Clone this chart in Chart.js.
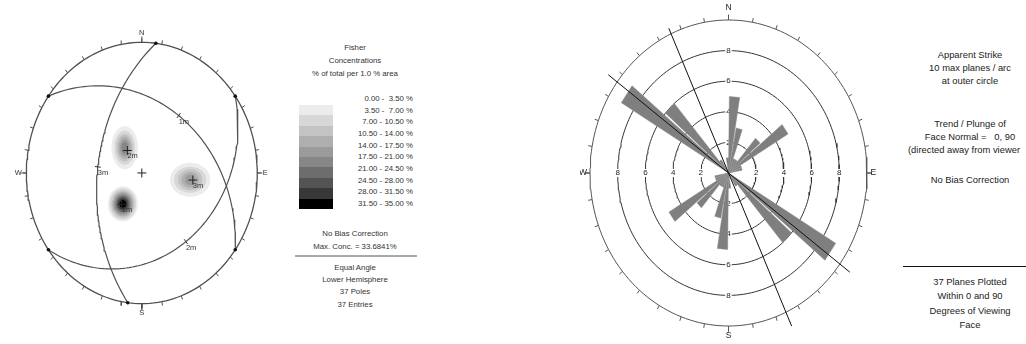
<!DOCTYPE html>
<html lang="en">
<head>
<meta charset="UTF-8">
<title>Fisher concentrations and rose diagram</title>
<script src="https://cdn.jsdelivr.net/npm/chart.js"></script>
<style>
    body {
        margin: 0;
        width: 1026px;
        height: 344px;
        position: relative;
        overflow: hidden;
        background: #fff;
        font-family: "Liberation Sans", Arial, sans-serif;
        color: #333;
    }
    .box { position: absolute; top: 0; height: 344px; }
    #stereoBox { left: 0; width: 290px; }
    #roseBox { left: 580px; width: 300px; }
    .t {
        position: absolute;
        white-space: pre;
        line-height: 10px;
        font-size: 7.8px;
    }
    .left { left: 295px; width: 120px; text-align: center; }
    .right { left: 900px; width: 140px; text-align: center; font-size: 9.4px; line-height: 12px; color: #222; }
    .swatch { position: absolute; left: 299px; width: 34px; }
    .lvl { left: 330px; width: 83px; text-align: right; }
</style>
</head>
<body>
    <div id="stereoBox" class="box"><canvas id="stereo"></canvas></div>
    <div id="roseBox" class="box"><canvas id="rose"></canvas></div>

    <!-- stereonet legend -->
    <div class="t left" style="top:43px">Fisher</div>
    <div class="t left" style="top:56px">Concentrations</div>
    <div class="t left" style="top:69px">% of total per 1.0 % area</div>
    <div id="legend"></div>
    <div class="t left" style="top:229px">No Bias Correction</div>
    <div class="t left" style="top:242px">Max. Conc. = 33.6841%</div>
    <div style="position:absolute;left:295px;top:255px;width:122px;height:2px;background:#aaa"></div>
    <div class="t left" style="top:263px">Equal Angle</div>
    <div class="t left" style="top:275px">Lower Hemisphere</div>
    <div class="t left" style="top:287px">37 Poles</div>
    <div class="t left" style="top:300px">37 Entries</div>

    <!-- rose notes -->
    <div class="t right" style="top:49px">Apparent Strike</div>
    <div class="t right" style="top:62px">10 max planes / arc</div>
    <div class="t right" style="top:75px">at outer circle</div>
    <div class="t right" style="top:118px">Trend / Plunge of</div>
    <div class="t right" style="top:131px">Face Normal =   0, 90</div>
    <div class="t right" style="top:144px;left:894px">(directed away from viewer</div>
    <div class="t right" style="top:174px">No Bias Correction</div>
    <div style="position:absolute;left:903px;top:266px;width:123px;height:1px;background:#111"></div>
    <div class="t right" style="top:276px">37 Planes Plotted</div>
    <div class="t right" style="top:290px">Within 0 and 90</div>
    <div class="t right" style="top:305px">Degrees of Viewing</div>
    <div class="t right" style="top:319px">Face</div>

<script>
    // ---------- stereonet data ----------
    const planeNames = ['1m', '2m', '3m'];
    const planeDipDir = [36, 144, 277];
    const planeDip = [33, 24, 48];

    // concentration blobs (unit-circle coords), one radius per contour level
    const clusterX = [-0.164, -0.148, 0.419];
    const clusterY = [-0.237, 0.193, -0.052];
    const clusterRx = [
        [0.13, 0.115, 0.1, 0.09, 0.08, 0.07, 0.06, 0.05, 0.04, 0.028],
        [0.115, 0.09, 0.072, 0.057, 0.042, 0.028],
        [0.175, 0.14, 0.105, 0.075, 0.045]
    ];
    const clusterRy = [
        [0.135, 0.12, 0.105, 0.094, 0.083, 0.072, 0.062, 0.052, 0.042, 0.03],
        [0.165, 0.13, 0.105, 0.085, 0.065, 0.045],
        [0.13, 0.1, 0.08, 0.06, 0.04]
    ];
    const levelBounds = [0, 3.5, 7, 10.5, 14, 17.5, 21, 24.5, 28, 31.5, 35];
    const levelColors = ['#ececec', '#d7d7d7', '#c3c3c3', '#afafaf', '#9b9b9b',
                         '#868686', '#6d6d6d', '#545454', '#383838', '#000000'];
    const cardinals = ['N', 'E', 'S', 'W'];

    // ---------- rose data ----------
    // planes per 10 degree strike bin, 0-10 ... 170-180 (drawn both ways)
    const strikeCounts = [5, 3, 1, 1, 3, 5, 1, 1, 0, 0, 0, 0, 9, 6, 1, 0, 0, 1];
    const ringValues = [2, 4, 6, 8, 10];
    const ringLabels = [2, 4, 6, 8];
    const lineAzimuths = [306.5, 335.5];
    const lineReachOut = [10.8, 10.4];
    const lineReachBack = [10.9, 11.0];

    const D2R = Math.PI / 180;
    const FONT = '"Liberation Sans", Arial, sans-serif';

    // legend swatches + labels
    const legend = document.getElementById('legend');
    const pad = v => (v < 10 ? ' ' : '') + v.toFixed(2);
    levelColors.forEach((c, i) => {
        const sw = document.createElement('div');
        sw.className = 'swatch';
        sw.style.top = Math.round(105 + i * 10.4) + 'px';
        sw.style.height = (Math.round(105 + (i + 1) * 10.4) - Math.round(105 + i * 10.4)) + 'px';
        sw.style.background = c;
        legend.appendChild(sw);
        const lb = document.createElement('div');
        lb.className = 't lvl';
        lb.style.top = Math.round(94 + i * 11.67) + 'px';
        lb.textContent = levelBounds[i].toFixed(2) + ' - ' + pad(levelBounds[i + 1]) + ' %';
        legend.appendChild(lb);
    });

    function project(trend, plunge) {
        const r = Math.tan((90 - plunge) / 2 * D2R);
        return {x: r * Math.sin(trend * D2R), y: r * Math.cos(trend * D2R)};
    }
    function polar(az, r) {
        return {x: r * Math.sin(az * D2R), y: r * Math.cos(az * D2R)};
    }
    function ellipse(cx, cy, rx, ry, step) {
        const pts = [];
        for (let a = 0; a <= 360; a += step) {
            pts.push({x: cx + rx * Math.sin(a * D2R), y: cy + ry * Math.cos(a * D2R)});
        }
        return pts;
    }
    function greatCircle(dipDir, dip) {
        const pts = [];
        const sd = (dipDir - 90) * D2R, dd = dipDir * D2R, dp = dip * D2R;
        for (let t = 0; t <= 180; t += 2) {
            const c = Math.cos(t * D2R), s = Math.sin(t * D2R);
            const e = c * Math.sin(sd) + s * Math.cos(dp) * Math.sin(dd);
            const n = c * Math.cos(sd) + s * Math.cos(dp) * Math.cos(dd);
            const d = s * Math.sin(dp);
            pts.push(project(Math.atan2(e, n) / D2R, Math.asin(Math.min(1, d)) / D2R));
        }
        return pts;
    }
    function tickSegments(r0, r1, step) {
        const pts = [];
        for (let a = 0; a < 360; a += step) {
            pts.push(polar(a, r0), polar(a, r1), {x: null, y: null});
        }
        return pts;
    }
    function lineDs(data, color, width, order, extra) {
        return Object.assign({data, showLine: true, borderColor: color, borderWidth: width,
            pointRadius: 0, fill: false, tension: 0, order}, extra || {});
    }

    // ---------- stereonet ----------
    const stereoSets = [];
    clusterX.forEach((cx, k) => {
        clusterRx[k].forEach((rx, i) => {
            // outer levels get a higher order so they are painted first
            stereoSets.push(lineDs(ellipse(cx, clusterY[k], rx, clusterRy[k][i], 10), 'rgba(0,0,0,0)', 0, 20 - i,
                {fill: 'shape', backgroundColor: levelColors[i], kind: 'contour'}));
        });
    });
    planeDipDir.forEach((dd, i) => {
        stereoSets.push(lineDs(greatCircle(dd, planeDip[i]), '#505050', 1.2, 3));
    });
    stereoSets.push(lineDs(ellipse(0, 0, 1, 1, 2), '#505050', 1.3, 2));
    stereoSets.push(lineDs(tickSegments(1, 1.03, 10), '#505050', 1, 2));
    stereoSets.push(lineDs(tickSegments(1, 1.045, 90), '#505050', 1, 2));
    // strike ends on the primitive
    stereoSets.push({data: planeDipDir.flatMap(dd => [polar(dd - 90, 1), polar(dd + 90, 1)]),
        pointRadius: 1.8, backgroundColor: '#111', borderWidth: 0, order: 1});
    // small ticks at the middle of each great circle
    planeDipDir.forEach((dd, i) => {
        const p = polar(dd, Math.tan((90 - planeDip[i]) / 2 * D2R));
        stereoSets.push({data: [p], pointStyle: 'line', rotation: dd - 90, pointRadius: 3,
            borderColor: '#333', borderWidth: 1, order: 1});
    });
    // poles of the mean planes + centre
    stereoSets.push({data: planeDipDir.map((dd, i) => project(dd + 180, 90 - planeDip[i])).concat([{x: 0, y: 0}]),
        pointStyle: 'cross', pointRadius: 4.5, borderColor: '#222', borderWidth: 1, order: 0});

    const stereoText = {
        id: 'stereoText',
        beforeDatasetDraw(chart, args) {
            if (chart.data.datasets[args.index].kind === 'contour') {
                chart.ctx.save();
                chart.ctx.filter = 'blur(1.6px)';
            }
        },
        afterDatasetDraw(chart, args) {
            if (chart.data.datasets[args.index].kind === 'contour') chart.ctx.restore();
        },
        afterDatasetsDraw(chart) {
            const {ctx, scales: {x, y}} = chart;
            ctx.save();
            ctx.fillStyle = '#333';
            ctx.font = '7.5px ' + FONT;
            ctx.textAlign = 'center';
            ctx.textBaseline = 'middle';
            cardinals.forEach((c, i) => {
                const p = polar(i * 90, 1.07);
                ctx.fillText(c, x.getPixelForValue(p.x), y.getPixelForValue(p.y));
            });
            ctx.textAlign = 'left';
            planeDipDir.forEach((dd, i) => {
                const p = polar(dd, Math.tan((90 - planeDip[i]) / 2 * D2R));
                ctx.fillText(planeNames[i], x.getPixelForValue(p.x), y.getPixelForValue(p.y) + 6);
                const q = project(dd + 180, 90 - planeDip[i]);
                ctx.fillText(planeNames[i], x.getPixelForValue(q.x), y.getPixelForValue(q.y) + 5.5);
            });
            ctx.restore();
        }
    };

    new Chart(document.getElementById('stereo'), {
        type: 'scatter',
        data: {datasets: stereoSets},
        options: {
            responsive: true,
            maintainAspectRatio: false,
            animation: false,
            events: [],
            layout: {padding: 0},
            plugins: {legend: {display: false}, tooltip: {enabled: false}},
            scales: {
                x: {type: 'linear', display: false, min: -141.7 / 120, max: 148.3 / 120},
                y: {type: 'linear', display: false, min: -171 / 135, max: 173 / 135}
            }
        },
        plugins: [stereoText]
    });

    // ---------- rose diagram ----------
    const roseSets = [];
    ringValues.forEach(r => {
        roseSets.push(lineDs(ellipse(0, 0, r, r, 2), r === 10 ? '#555' : '#333', 1, 3));
    });
    roseSets.push(lineDs(tickSegments(10, 10.28, 10), '#555', 1, 3));
    roseSets.push(lineDs(tickSegments(10, 10.35, 90), '#444', 1, 3));
    strikeCounts.forEach((n, i) => {
        if (!n) return;
        [0, 180].forEach(off => {
            const a0 = i * 10 + off + 0.7, a1 = i * 10 + off + 9.3;
            roseSets.push(lineDs([{x: 0, y: 0}, polar(a0, n), polar(a1, n), {x: 0, y: 0}], '#8a8a8a', 0.5, 2,
                {fill: 'shape', backgroundColor: '#7f7f7f', kind: 'petal'}));
        });
    });
    lineAzimuths.forEach((az, i) => {
        roseSets.push(lineDs([polar(az, lineReachOut[i]), polar(az + 180, lineReachBack[i])], '#111', 1, 1));
    });

    const roseText = {
        id: 'roseText',
        beforeDatasetsDraw(chart) { chart.$ringsLabelled = false; },
        beforeDatasetDraw(chart, args) {
            if (chart.$ringsLabelled || chart.data.datasets[args.index].kind !== 'petal') return;
            chart.$ringsLabelled = true;
            const {ctx, scales: {x, y}} = chart;
            ctx.save();
            ctx.font = '8px ' + FONT;
            ctx.textAlign = 'center';
            ctx.textBaseline = 'middle';
            const put = (vx, vy, txt) => {
                const px = x.getPixelForValue(vx), py = y.getPixelForValue(vy);
                const w = ctx.measureText(txt).width;
                ctx.fillStyle = '#fff';
                ctx.fillRect(px - w / 2 - 1, py - 4, w + 2, 8);
                ctx.fillStyle = '#222';
                ctx.fillText(txt, px, py);
            };
            ringLabels.forEach(v => {
                put(v, 0, String(v));
                put(-v, 0, String(v));
                put(0, v, String(v));
                put(0, -v, String(v));
            });
            ctx.restore();
        },
        afterDatasetsDraw(chart) {
            const {ctx, scales: {x, y}} = chart;
            ctx.save();
            ctx.fillStyle = '#222';
            ctx.font = '8.5px ' + FONT;
            ctx.textAlign = 'center';
            ctx.textBaseline = 'middle';
            const pos = [[0, 10.8], [10.45, 0], [0, -10.65], [-10.5, 0]];
            cardinals.forEach((c, i) => {
                ctx.fillText(c, x.getPixelForValue(pos[i][0]), y.getPixelForValue(pos[i][1]));
            });
            ctx.restore();
        }
    };

    new Chart(document.getElementById('rose'), {
        type: 'scatter',
        data: {datasets: roseSets},
        options: {
            responsive: true,
            maintainAspectRatio: false,
            animation: false,
            events: [],
            layout: {padding: 0},
            plugins: {legend: {display: false}, tooltip: {enabled: false}},
            scales: {
                x: {type: 'linear', display: false, min: -148.5 / 13.85, max: 151.5 / 13.85},
                y: {type: 'linear', display: false, min: -171 / 15.3, max: 173 / 15.3}
            }
        },
        plugins: [roseText]
    });
</script>
</body>
</html>
